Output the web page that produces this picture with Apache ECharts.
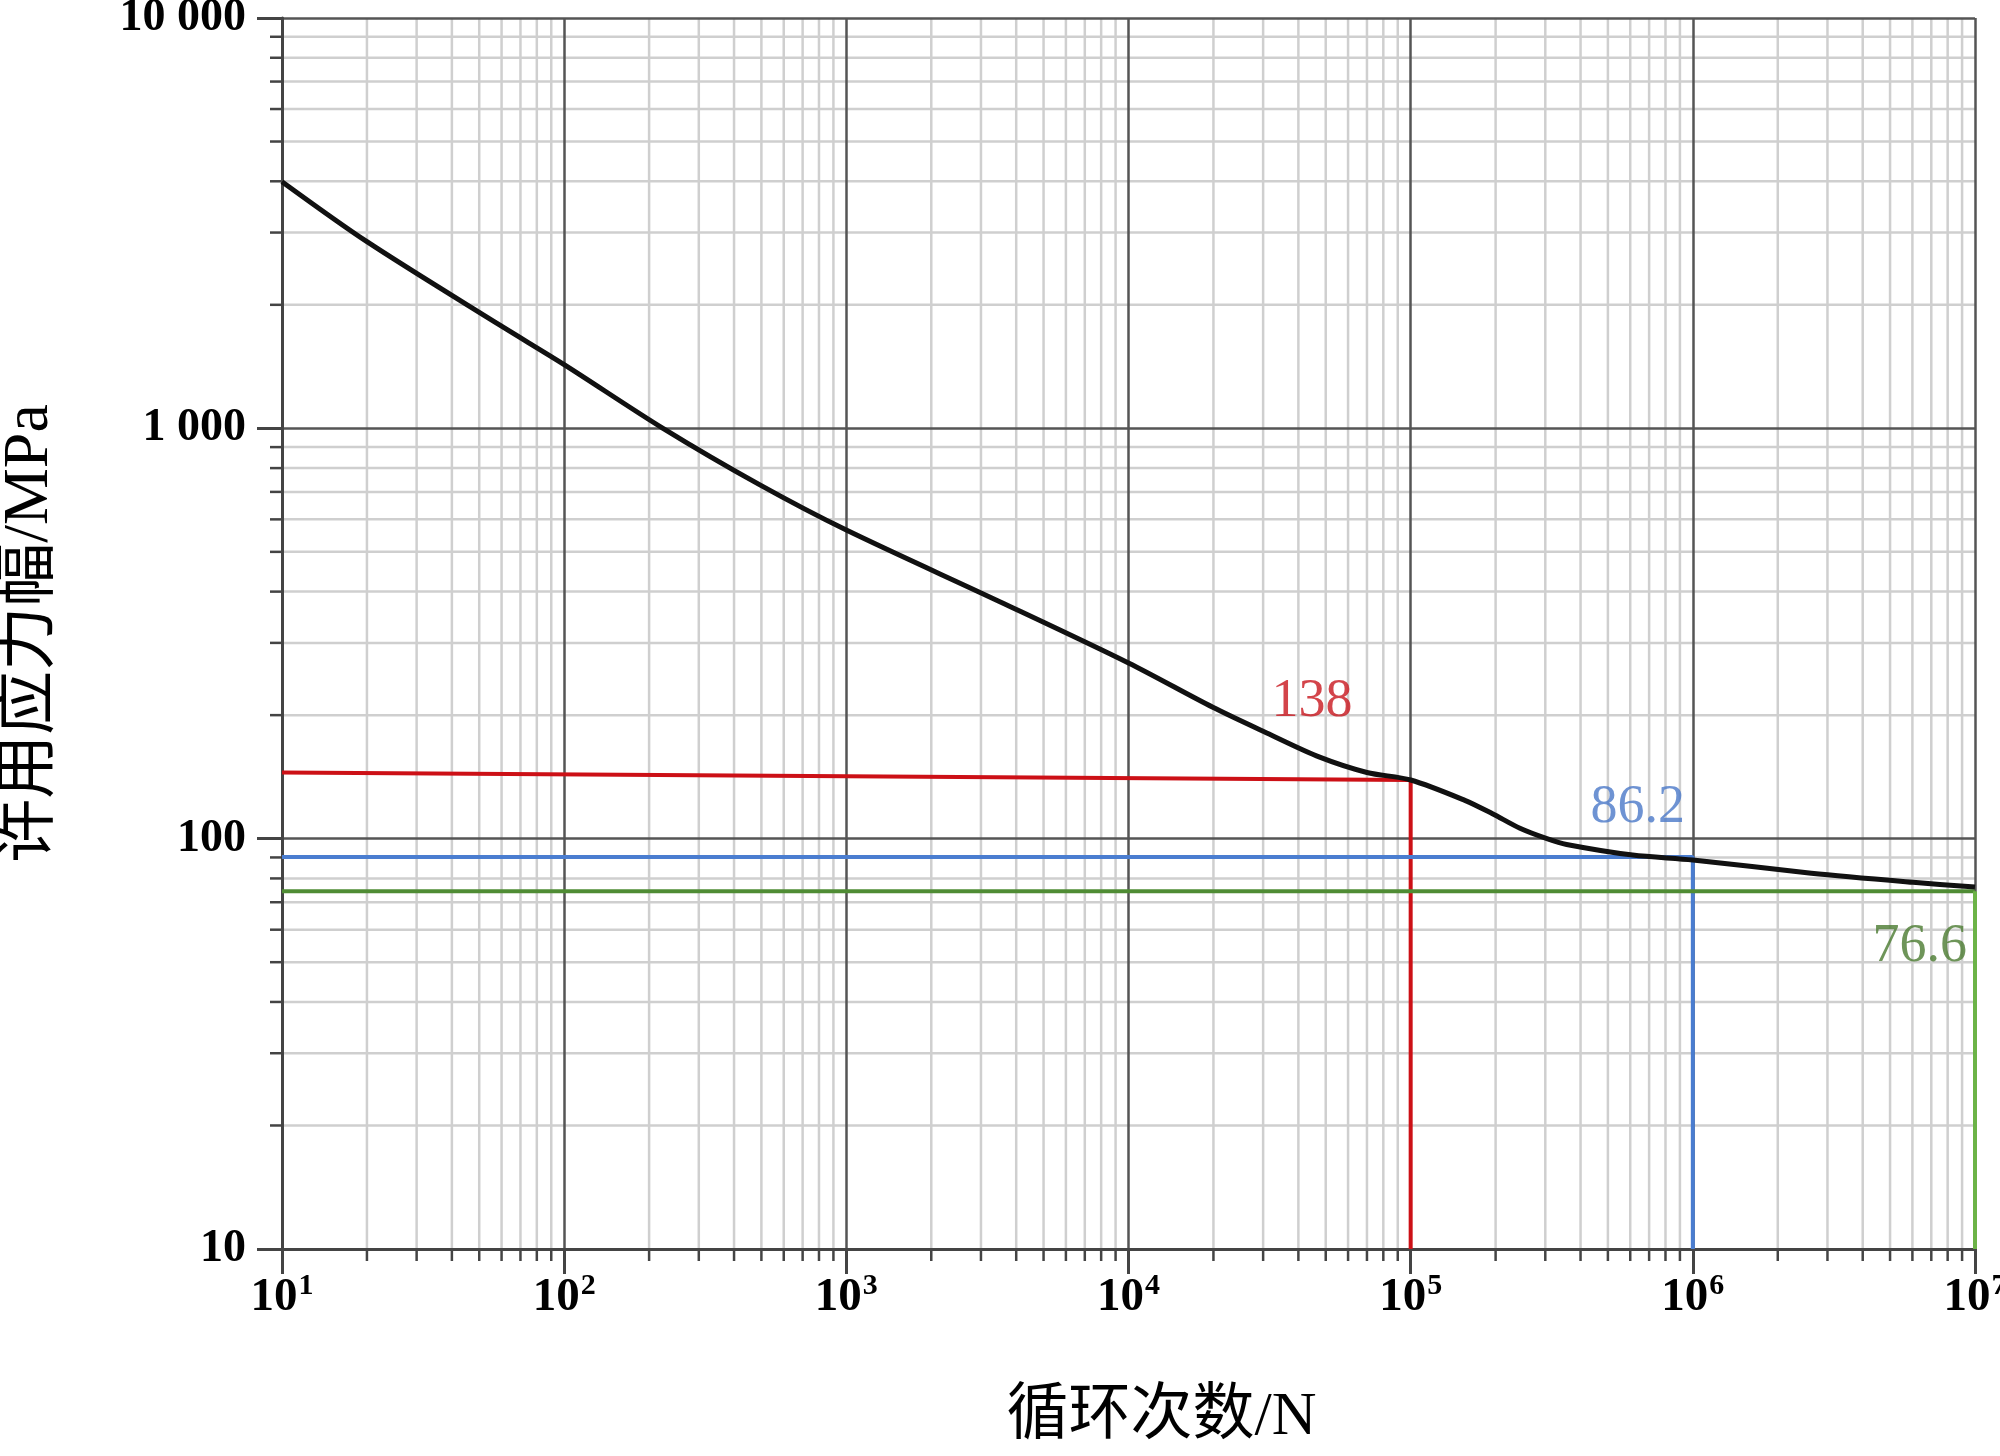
<!DOCTYPE html>
<html><head><meta charset="utf-8">
<script src="https://cdn.jsdelivr.net/npm/echarts@6/dist/echarts.min.js"></script>
<style>html,body{margin:0;padding:0;background:#fff}#c{width:2000px;height:1456px}</style>
</head><body><div id="c"></div>
<script>
// ---- data ----
const cycles = [10,20,59,100,224,494,1000,3500,10000,19900,30900,47600,70000,100000,155600,195000,244000,304000,357000,612000,1000000,2630000,6030000,10000000];
const stress = [3990,2850,1786,1430,1000,728,565,378,268,209,181,158,145,139,124,115,106,100,96.8,91.2,88.7,82.4,78.3,76.2];

const redX = [10, 100000, 100000];
const redY = [145, 139, 10];
const blueX = [10, 1000000, 1000000];
const blueY = [90.2, 90.2, 10];
const greenHX = [10, 10000000];
const greenHY = [74.5, 74.5];
const greenVX = [10000000, 10000000];
const greenVY = [74.5, 10];

const annoText = ['138', '86.2', '76.6'];
const annoN = [44700, 638000, 6370000];
const annoS = [215, 119, 54.5];
const annoColor = ['#c8151d', '#4a78c8', '#4a7a30'];

const yTickValues = [10, 100, 1000, 10000];
const yTickText = ['10', '100', '1 000', '10 000'];
const xTickExp = [1, 2, 3, 4, 5, 6, 7];
const minorMult = [2, 3, 4, 5, 6, 7, 8, 9];
const xDecades = [10, 100, 1000, 10000, 100000, 1000000];
const yDecades = [10, 100, 1000];

const xMinor = [];
xDecades.forEach(d => minorMult.forEach(m => xMinor.push(d * m)));
const yMinor = [];
yDecades.forEach(d => minorMult.forEach(m => yMinor.push(d * m)));

const zip = (a, b) => a.map((v, i) => [v, b[i]]);
const SERIF = "'Liberation Serif','Times New Roman',serif";
const CJK = "'Liberation Serif','Noto Sans CJK SC',serif";

const chart = echarts.init(document.getElementById('c'), null, {renderer: 'canvas'});

function vMinor(params, api) {
  const v = api.value(0);
  const top = api.coord([v, 10000]);
  const bot = api.coord([v, 10]);
  return {type: 'group', children: [
    {type: 'line', shape: {x1: bot[0], y1: bot[1], x2: top[0], y2: top[1]}, style: {stroke: '#cfcfcf', lineWidth: 2.5}},
    {type: 'line', shape: {x1: bot[0], y1: bot[1], x2: bot[0], y2: bot[1] + 12}, style: {stroke: '#444', lineWidth: 2.5}}
  ]};
}
function hMinor(params, api) {
  const v = api.value(1);
  const l = api.coord([10, v]);
  const r = api.coord([10000000, v]);
  return {type: 'group', children: [
    {type: 'line', shape: {x1: l[0], y1: l[1], x2: r[0], y2: r[1]}, style: {stroke: '#cfcfcf', lineWidth: 2.5}},
    {type: 'line', shape: {x1: l[0] - 12, y1: l[1], x2: l[0], y2: l[1]}, style: {stroke: '#444', lineWidth: 2.5}}
  ]};
}

const option = {
  animation: false,
  backgroundColor: '#fff',
  grid: {left: 282, top: 18, width: 1693, height: 1231, containLabel: false, outerBoundsMode: 'none'},
  xAxis: {
    type: 'log', logBase: 10, min: 10, max: 10000000, z: 3,
    name: '循环次数/N', nameLocation: 'middle', nameGap: 138,
    nameTextStyle: {fontFamily: CJK, fontSize: 62, color: '#000', padding: [0, 0, 0, 66]},
    axisLine: {show: true, lineStyle: {color: '#444', width: 3}},
    axisTick: {show: true, length: 25, lineStyle: {color: '#444', width: 3}},
    minorTick: {show: false},
    splitLine: {show: true, lineStyle: {color: '#555', width: 2.5}},
    axisLabel: {
      margin: 22, color: '#000',
      formatter: v => {
        const e = Math.round(Math.log10(v));
        return xTickExp.indexOf(e) >= 0 ? '{b|10}{s|' + e + '}' : '';
      },
      rich: {
        b: {fontFamily: SERIF, fontWeight: 'bold', fontSize: 47, color: '#000', lineHeight: 50, verticalAlign: 'bottom'},
        s: {fontFamily: SERIF, fontWeight: 'bold', fontSize: 30, color: '#000', lineHeight: 50, verticalAlign: 'top', padding: [0, 0, 24, 1]}
      }
    }
  },
  yAxis: {
    type: 'log', logBase: 10, min: 10, max: 10000, z: 3,
    name: '许用应力幅/MPa', nameLocation: 'middle', nameGap: 220,
    nameTextStyle: {fontFamily: CJK, fontSize: 64, color: '#000'},
    axisLine: {show: true, lineStyle: {color: '#444', width: 3}},
    axisTick: {show: true, length: 25, lineStyle: {color: '#444', width: 3}},
    minorTick: {show: false},
    splitLine: {show: true, lineStyle: {color: '#555', width: 2.5}},
    axisLabel: {
      margin: 36, color: '#000', fontFamily: SERIF, fontWeight: 'bold', fontSize: 46,
      formatter: v => {
        const i = yTickValues.findIndex(t => Math.abs(t - v) / t < 1e-6);
        return i >= 0 ? yTickText[i] : '';
      }
    }
  },
  series: [
    {type: 'custom', name: 'xminor', z: 1, clip: false, silent: true,
     renderItem: vMinor, encode: {x: 0, y: 1}, data: xMinor.map(v => [v, 10])},
    {type: 'custom', name: 'yminor', z: 1, clip: false, silent: true,
     renderItem: hMinor, encode: {x: 0, y: 1}, data: yMinor.map(v => [10, v])},
    {type: 'line', name: 'red', z: 4, data: zip(redX, redY), symbol: 'none',
     lineStyle: {color: '#cc1016', width: 4}},
    {type: 'line', name: 'blue', z: 4, data: zip(blueX, blueY), symbol: 'none',
     lineStyle: {color: '#4a7dd0', width: 4}},
    {type: 'line', name: 'greenH', z: 4, data: zip(greenHX, greenHY), symbol: 'none',
     lineStyle: {color: '#4f8c34', width: 4}},
    {type: 'line', name: 'greenV', z: 4, data: zip(greenVX, greenVY), symbol: 'none',
     lineStyle: {color: '#6cb347', width: 4}},
    {type: 'line', name: 'curve', z: 5, data: zip(cycles, stress), symbol: 'none',
     smooth: 0.3,
     lineStyle: {color: '#111', width: 5, join: 'round'}},
    {type: 'scatter', name: 'labels', z: 6, symbolSize: 0, silent: true,
     data: annoText.map((t, i) => ({
       value: [annoN[i], annoS[i]],
       label: {show: true, position: 'inside', formatter: t, color: annoColor[i],
               fontFamily: SERIF, fontSize: 54}
     }))}
  ]
};
chart.setOption(option);
</script>
</body></html>
